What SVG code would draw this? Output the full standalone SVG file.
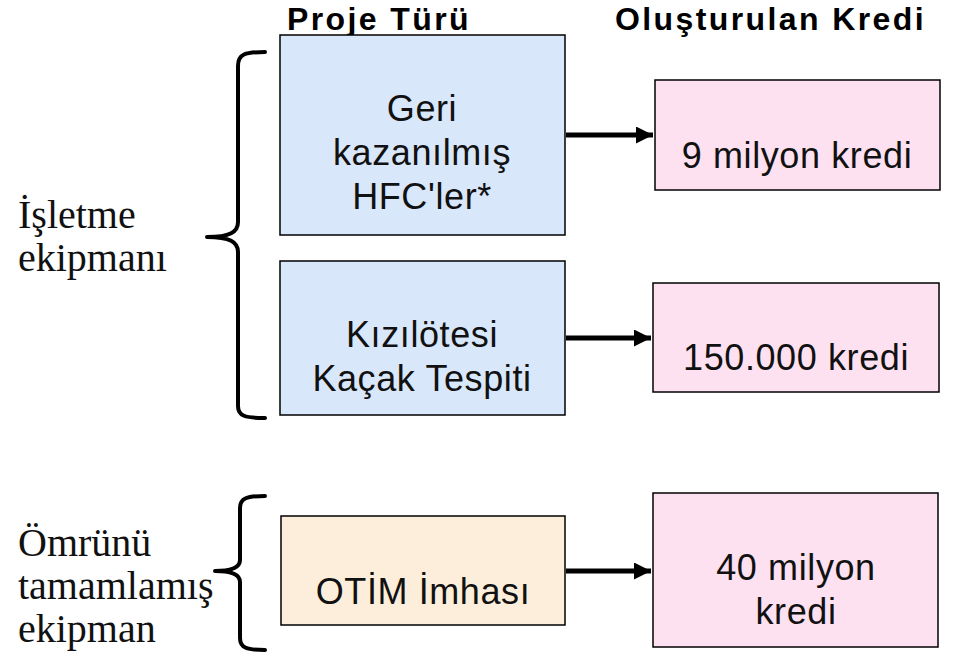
<svg xmlns="http://www.w3.org/2000/svg" width="959" height="657" viewBox="0 0 959 657">
<style>
.box{stroke:#000;stroke-width:1.5}
.blue{fill:#d9e7fb}
.pink{fill:#fde1f1}
.orange{fill:#fdeedc}
.t{font-family:"Liberation Sans",Arial,sans-serif;font-size:36px;letter-spacing:0.6px;fill:#111;text-anchor:middle}
.h{font-family:"Liberation Sans",Arial,sans-serif;font-size:32px;letter-spacing:2.4px;font-weight:bold;fill:#000}
.s{font-family:"Liberation Serif",serif;font-size:40px;fill:#111}
.br{fill:none;stroke:#000;stroke-width:4;stroke-linecap:round;stroke-linejoin:round}
.ar{stroke:#000;stroke-width:5}
</style>
<defs>
<marker id="ah" viewBox="0 0 10 10" refX="10" refY="5" markerWidth="3.4" markerHeight="3.4" orient="auto" markerUnits="strokeWidth">
<path d="M0,0 L10,5 L0,10 z" fill="#000"/>
</marker>
</defs>
<g id="headers">
<text class="h" x="287" y="30">Proje Türü</text>
<text class="h" x="615" y="30">Oluşturulan Kredi</text>
</g>
<g id="label-isletme">
<text class="s" x="18" y="228">İşletme</text>
<text class="s" x="18" y="271">ekipmanı</text>
<path class="br" d="M265,52 C245,52 238,54 238,66 L238,222 C238,232 230,237 207,237 C230,237 238,242 238,252 L238,406 C238,416 245,418 265,418"/>
</g>
<g id="label-omrunu">
<text class="s" x="18" y="556">Ömrünü</text>
<text class="s" x="18" y="599">tamamlamış</text>
<text class="s" x="18" y="642">ekipman</text>
<path class="br" d="M265,496 C247,496 240,498 240,508 L240,560 C240,567 233,571 215,571 C233,571 240,575 240,582 L240,638 C240,648 247,650 265,650"/>
</g>
<g id="node-hfc">
<rect class="box blue" x="280" y="35" width="285" height="200"/>
<text class="t" x="422" y="121">Geri</text>
<text class="t" x="422" y="165">kazanılmış</text>
<text class="t" x="422" y="209">HFC'ler*</text>
</g>
<g id="node-kizilotesi">
<rect class="box blue" x="280" y="261" width="285" height="154"/>
<text class="t" x="422" y="347">Kızılötesi</text>
<text class="t" x="422" y="391">Kaçak Tespiti</text>
</g>
<g id="node-otim">
<rect class="box orange" x="281" y="516" width="284" height="109"/>
<text class="t" x="423" y="604">OTİM İmhası</text>
</g>
<g id="node-9m">
<rect class="box pink" x="655" y="80" width="285" height="110"/>
<text class="t" x="797" y="168">9 milyon kredi</text>
</g>
<g id="node-150k">
<rect class="box pink" x="653" y="283" width="286" height="109"/>
<text class="t" x="796" y="370">150.000 kredi</text>
</g>
<g id="node-40m">
<rect class="box pink" x="653" y="493" width="285" height="154"/>
<text class="t" x="796" y="580">40 milyon</text>
<text class="t" x="796" y="624">kredi</text>
</g>
<g id="connectors">
<line class="ar" x1="566" y1="135" x2="653" y2="135" marker-end="url(#ah)"/>
<line class="ar" x1="566" y1="338" x2="651" y2="338" marker-end="url(#ah)"/>
<line class="ar" x1="566" y1="571" x2="651" y2="571" marker-end="url(#ah)"/>
</g>
</svg>
